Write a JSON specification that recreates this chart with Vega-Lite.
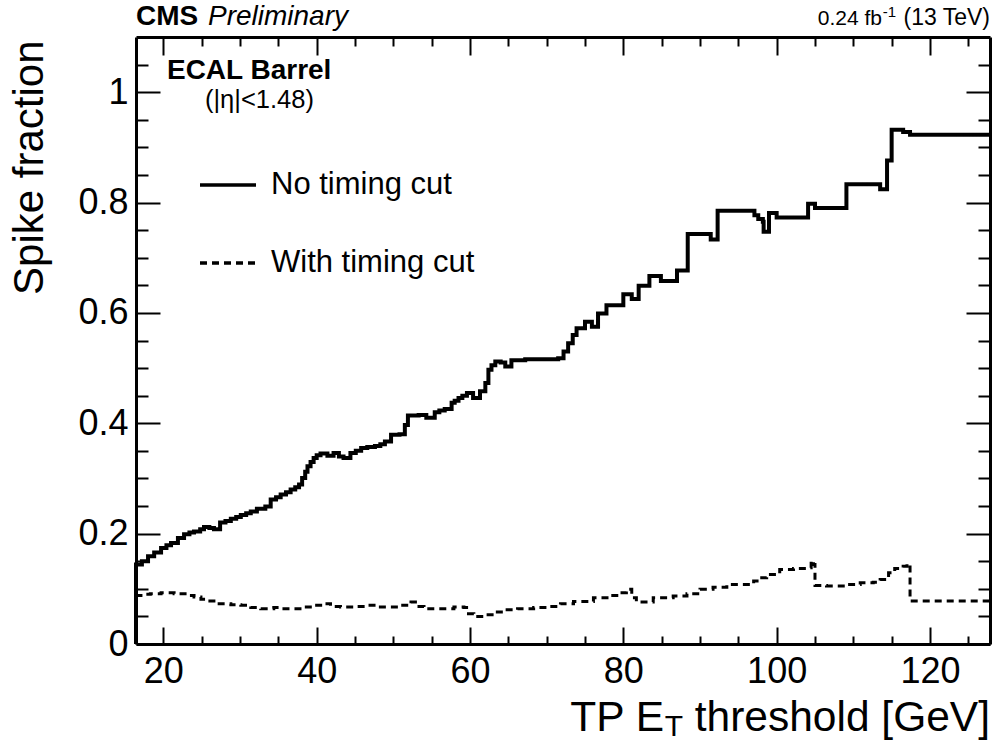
{
  "$schema": "https://vega.github.io/schema/vega-lite/v6.json",
  "width": 854,
  "height": 607,
  "autosize": {"type": "none"},
  "padding": {"left": 136, "top": 37, "right": 5, "bottom": 100},
  "background": "white",
  "config": {
    "view": {"stroke": null},
    "font": "Liberation Sans",
    "axis": {"grid": false, "domainColor": "black", "domainWidth": 3, "tickColor": "black", "tickWidth": 2, "labelColor": "black", "labelFont": "Liberation Sans", "titleFont": "Liberation Sans", "titleColor": "black", "labelOverlap": false, "labelFlush": false, "labelBound": false},
    "text": {"font": "Liberation Sans", "color": "black"}
  },
  "datasets": {
    "nocut": [
      {"et": 16.43, "frac": 0}, {"et": 16.43, "frac": 0.144}, {"et": 17.2, "frac": 0.150}, {"et": 18.0, "frac": 0.159}, {"et": 18.8, "frac": 0.166}, {"et": 19.7, "frac": 0.174}, {"et": 20.4, "frac": 0.179}, {"et": 21.0, "frac": 0.183}, {"et": 21.9, "frac": 0.192}, {"et": 22.7, "frac": 0.199}, {"et": 23.4, "frac": 0.202}, {"et": 24.0, "frac": 0.204}, {"et": 24.8, "frac": 0.208}, {"et": 25.3, "frac": 0.212}, {"et": 26.0, "frac": 0.210}, {"et": 26.6, "frac": 0.208}, {"et": 27.4, "frac": 0.220}, {"et": 28.1, "frac": 0.223}, {"et": 28.8, "frac": 0.227}, {"et": 29.5, "frac": 0.230}, {"et": 30.1, "frac": 0.234}, {"et": 30.8, "frac": 0.237}, {"et": 31.4, "frac": 0.240}, {"et": 32.2, "frac": 0.245}, {"et": 33.3, "frac": 0.249}, {"et": 34.0, "frac": 0.262}, {"et": 34.7, "frac": 0.266}, {"et": 35.3, "frac": 0.271}, {"et": 36.0, "frac": 0.275}, {"et": 36.6, "frac": 0.280}, {"et": 37.2, "frac": 0.284}, {"et": 37.7, "frac": 0.289}, {"et": 38.1, "frac": 0.301}, {"et": 38.5, "frac": 0.312}, {"et": 38.8, "frac": 0.322}, {"et": 39.2, "frac": 0.330}, {"et": 39.6, "frac": 0.337}, {"et": 40.0, "frac": 0.342}, {"et": 40.5, "frac": 0.345}, {"et": 41.4, "frac": 0.341}, {"et": 42.2, "frac": 0.346}, {"et": 42.9, "frac": 0.340}, {"et": 43.5, "frac": 0.337}, {"et": 44.4, "frac": 0.346}, {"et": 45.1, "frac": 0.350}, {"et": 45.8, "frac": 0.355}, {"et": 46.6, "frac": 0.357}, {"et": 47.6, "frac": 0.359}, {"et": 48.3, "frac": 0.362}, {"et": 48.9, "frac": 0.367}, {"et": 49.7, "frac": 0.379}, {"et": 50.8, "frac": 0.380}, {"et": 51.5, "frac": 0.397}, {"et": 51.9, "frac": 0.414}, {"et": 53.3, "frac": 0.415}, {"et": 54.3, "frac": 0.410}, {"et": 55.4, "frac": 0.420}, {"et": 56.0, "frac": 0.423}, {"et": 56.7, "frac": 0.426}, {"et": 57.6, "frac": 0.437}, {"et": 58.0, "frac": 0.441}, {"et": 58.5, "frac": 0.446}, {"et": 59.0, "frac": 0.450}, {"et": 59.6, "frac": 0.455}, {"et": 60.4, "frac": 0.446}, {"et": 61.3, "frac": 0.458}, {"et": 62.0, "frac": 0.473}, {"et": 62.4, "frac": 0.497}, {"et": 62.8, "frac": 0.505}, {"et": 63.3, "frac": 0.512}, {"et": 64.0, "frac": 0.510}, {"et": 64.6, "frac": 0.503}, {"et": 65.4, "frac": 0.514}, {"et": 67.2, "frac": 0.516}, {"et": 71.5, "frac": 0.518}, {"et": 72.2, "frac": 0.530}, {"et": 72.8, "frac": 0.545}, {"et": 73.4, "frac": 0.560}, {"et": 73.9, "frac": 0.572}, {"et": 75.0, "frac": 0.584}, {"et": 75.9, "frac": 0.575}, {"et": 76.7, "frac": 0.599}, {"et": 77.8, "frac": 0.614}, {"et": 80.0, "frac": 0.634}, {"et": 81.1, "frac": 0.625}, {"et": 82.0, "frac": 0.649}, {"et": 83.4, "frac": 0.667}, {"et": 84.9, "frac": 0.658}, {"et": 87.0, "frac": 0.677}, {"et": 88.4, "frac": 0.743}, {"et": 91.4, "frac": 0.733}, {"et": 92.3, "frac": 0.785}, {"et": 97.1, "frac": 0.777}, {"et": 97.6, "frac": 0.770}, {"et": 98.2, "frac": 0.765}, {"et": 98.3, "frac": 0.747}, {"et": 99.0, "frac": 0.781}, {"et": 100.0, "frac": 0.773}, {"et": 104.1, "frac": 0.798}, {"et": 105.0, "frac": 0.790}, {"et": 109.1, "frac": 0.833}, {"et": 113.5, "frac": 0.824}, {"et": 114.4, "frac": 0.876}, {"et": 115.0, "frac": 0.932}, {"et": 116.5, "frac": 0.928}, {"et": 117.4, "frac": 0.923}, {"et": 127.83, "frac": 0.923}
    ],
    "cut": [
      {"et": 16.43, "frac": 0}, {"et": 16.43, "frac": 0.088}, {"et": 17.5, "frac": 0.090}, {"et": 18.3, "frac": 0.091}, {"et": 19.7, "frac": 0.093}, {"et": 21.4, "frac": 0.091}, {"et": 23.1, "frac": 0.088}, {"et": 24.0, "frac": 0.085}, {"et": 24.9, "frac": 0.081}, {"et": 25.7, "frac": 0.078}, {"et": 27.0, "frac": 0.073}, {"et": 28.8, "frac": 0.071}, {"et": 30.1, "frac": 0.070}, {"et": 31.4, "frac": 0.066}, {"et": 32.7, "frac": 0.064}, {"et": 34.4, "frac": 0.066}, {"et": 35.3, "frac": 0.064}, {"et": 37.0, "frac": 0.064}, {"et": 38.3, "frac": 0.067}, {"et": 39.6, "frac": 0.070}, {"et": 40.9, "frac": 0.073}, {"et": 41.8, "frac": 0.068}, {"et": 43.1, "frac": 0.067}, {"et": 44.9, "frac": 0.068}, {"et": 46.6, "frac": 0.070}, {"et": 47.9, "frac": 0.067}, {"et": 49.2, "frac": 0.067}, {"et": 51.0, "frac": 0.070}, {"et": 52.3, "frac": 0.076}, {"et": 53.1, "frac": 0.068}, {"et": 54.0, "frac": 0.064}, {"et": 55.3, "frac": 0.064}, {"et": 56.6, "frac": 0.064}, {"et": 57.9, "frac": 0.067}, {"et": 59.2, "frac": 0.066}, {"et": 59.8, "frac": 0.055}, {"et": 60.5, "frac": 0.050}, {"et": 61.8, "frac": 0.053}, {"et": 63.1, "frac": 0.058}, {"et": 64.4, "frac": 0.062}, {"et": 66.2, "frac": 0.064}, {"et": 68.3, "frac": 0.066}, {"et": 70.1, "frac": 0.068}, {"et": 71.8, "frac": 0.073}, {"et": 73.5, "frac": 0.077}, {"et": 76.1, "frac": 0.084}, {"et": 78.3, "frac": 0.088}, {"et": 79.6, "frac": 0.093}, {"et": 80.4, "frac": 0.099}, {"et": 81.1, "frac": 0.084}, {"et": 81.7, "frac": 0.076}, {"et": 83.9, "frac": 0.084}, {"et": 86.5, "frac": 0.087}, {"et": 88.3, "frac": 0.091}, {"et": 90.0, "frac": 0.099}, {"et": 91.7, "frac": 0.103}, {"et": 93.5, "frac": 0.108}, {"et": 96.1, "frac": 0.108}, {"et": 97.0, "frac": 0.114}, {"et": 97.8, "frac": 0.120}, {"et": 98.7, "frac": 0.126}, {"et": 100.4, "frac": 0.135}, {"et": 102.2, "frac": 0.137}, {"et": 103.9, "frac": 0.138}, {"et": 104.5, "frac": 0.151}, {"et": 104.8, "frac": 0.144}, {"et": 105.0, "frac": 0.106}, {"et": 106.5, "frac": 0.105}, {"et": 109.1, "frac": 0.108}, {"et": 110.9, "frac": 0.111}, {"et": 112.6, "frac": 0.112}, {"et": 113.5, "frac": 0.117}, {"et": 114.6, "frac": 0.129}, {"et": 115.4, "frac": 0.137}, {"et": 116.5, "frac": 0.141}, {"et": 117.0, "frac": 0.145}, {"et": 117.4, "frac": 0.078}, {"et": 127.83, "frac": 0.078}
    ],
    "one": [{}]
  },
  "resolve": {"axis": {"x": "independent", "y": "independent"}},
  "layer": [
    {
      "data": {"name": "nocut"},
      "mark": {"type": "line", "interpolate": "step-after", "color": "black", "strokeWidth": 4, "strokeCap": "butt", "strokeJoin": "miter"},
      "encoding": {
        "x": {"field": "et", "type": "quantitative", "scale": {"domain": [16.43, 127.83], "nice": false, "zero": false},
          "axis": {"orient": "bottom", "values": [20,25,30,35,40,45,50,55,60,65,70,75,80,85,90,95,100,105,110,115,120,125],
            "tickSize": {"condition": {"test": "datum.value % 20 === 0", "value": -17}, "value": -8},
            "labelExpr": "datum.value % 20 === 0 ? datum.label : ''", "labelFontSize": 36, "labelPadding": 27, "title": null}},
        "y": {"field": "frac", "type": "quantitative", "scale": {"domain": [0, 1.1], "nice": false, "zero": false},
          "axis": {"orient": "left", "values": [0,0.05,0.1,0.15,0.2,0.25,0.3,0.35,0.4,0.45,0.5,0.55,0.6,0.65,0.7,0.75,0.8,0.85,0.9,0.95,1,1.05],
            "tickSize": {"condition": {"test": "round(datum.value*100) % 20 === 0", "value": -24}, "value": -12},
            "labelExpr": "round(datum.value*100) % 20 === 0 ? format(datum.value, '~g') : ''", "labelFontSize": 36, "labelPadding": 32,
            "title": "Spike fraction", "titleFontSize": 42, "titleFontWeight": "normal", "titleAngle": -90, "titleAlign": "right", "titleBaseline": "top", "titleX": -127, "titleY": 3}},
        "strokeDash": {"datum": "No timing cut", "type": "nominal",
          "scale": {"domain": ["No timing cut", "With timing cut"], "range": [[1, 0], [7, 5]]},
          "legend": {"title": null, "orient": "none", "legendX": 62, "legendY": 118, "symbolType": "stroke", "symbolSize": 3136, "symbolStrokeWidth": 3.5, "symbolStrokeColor": "black", "labelFontSize": 31, "labelFont": "Liberation Sans", "labelColor": "black", "labelOffset": 13, "rowPadding": 33, "labelLimit": 400}}
      }
    },
    {
      "data": {"name": "cut"},
      "mark": {"type": "line", "interpolate": "step-after", "color": "black", "strokeWidth": 3, "strokeCap": "butt"},
      "encoding": {
        "x": {"field": "et", "type": "quantitative",
          "axis": {"orient": "top", "values": [20,25,30,35,40,45,50,55,60,65,70,75,80,85,90,95,100,105,110,115,120,125],
            "tickSize": {"condition": {"test": "datum.value % 20 === 0", "value": -18}, "value": -9},
            "labels": false, "title": null}},
        "y": {"field": "frac", "type": "quantitative",
          "axis": {"orient": "right", "values": [0,0.05,0.1,0.15,0.2,0.25,0.3,0.35,0.4,0.45,0.5,0.55,0.6,0.65,0.7,0.75,0.8,0.85,0.9,0.95,1,1.05],
            "tickSize": {"condition": {"test": "round(datum.value*100) % 20 === 0", "value": -24}, "value": -12},
            "labels": false, "title": null}},
        "strokeDash": {"datum": "With timing cut", "type": "nominal"}
      }
    },
    {
      "data": {"name": "one"},
      "mark": {"type": "text", "align": "left", "baseline": "alphabetic", "fontSize": 28, "fontWeight": "bold", "text": "CMS"},
      "encoding": {"x": {"datum": 16.43, "type": "quantitative", "axis": null}, "y": {"datum": 1.1218, "type": "quantitative", "axis": null}}
    },
    {
      "data": {"name": "one"},
      "mark": {"type": "text", "align": "left", "baseline": "alphabetic", "fontSize": 28, "fontStyle": "italic", "text": "Preliminary"},
      "encoding": {"x": {"datum": 25.82, "type": "quantitative", "axis": null}, "y": {"datum": 1.1218, "type": "quantitative", "axis": null}}
    },
    {
      "data": {"name": "one"},
      "mark": {"type": "text", "align": "right", "baseline": "alphabetic", "fontSize": 23, "text": "(13 TeV)"},
      "encoding": {"x": {"datum": 127.83, "type": "quantitative", "axis": null}, "y": {"datum": 1.1218, "type": "quantitative", "axis": null}}
    },
    {
      "data": {"name": "one"},
      "mark": {"type": "text", "align": "right", "baseline": "alphabetic", "fontSize": 15, "dx": -94, "dy": -8, "text": "-1"},
      "encoding": {"x": {"datum": 127.83, "type": "quantitative", "axis": null}, "y": {"datum": 1.1218, "type": "quantitative", "axis": null}}
    },
    {
      "data": {"name": "one"},
      "mark": {"type": "text", "align": "right", "baseline": "alphabetic", "fontSize": 21, "dx": -108, "text": "0.24 fb"},
      "encoding": {"x": {"datum": 127.83, "type": "quantitative", "axis": null}, "y": {"datum": 1.1218, "type": "quantitative", "axis": null}}
    },
    {
      "data": {"name": "one"},
      "mark": {"type": "text", "align": "left", "baseline": "alphabetic", "fontSize": 28, "fontWeight": "bold", "text": "ECAL Barrel"},
      "encoding": {"x": {"datum": 20.47, "type": "quantitative", "axis": null}, "y": {"datum": 1.024, "type": "quantitative", "axis": null}}
    },
    {
      "data": {"name": "one"},
      "mark": {"type": "text", "align": "left", "baseline": "alphabetic", "fontSize": 25.5, "text": "(|η|<1.48)"},
      "encoding": {"x": {"datum": 25.43, "type": "quantitative", "axis": null}, "y": {"datum": 0.971, "type": "quantitative", "axis": null}}
    },
    {
      "data": {"name": "one"},
      "mark": {"type": "text", "align": "right", "baseline": "alphabetic", "fontSize": 42.5, "text": "threshold [GeV]"},
      "encoding": {"x": {"datum": 127.83, "type": "quantitative", "axis": null}, "y": {"datum": -0.157, "type": "quantitative", "axis": null}}
    },
    {
      "data": {"name": "one"},
      "mark": {"type": "text", "align": "right", "baseline": "alphabetic", "fontSize": 30, "dx": -307, "dy": 5, "text": "T"},
      "encoding": {"x": {"datum": 127.83, "type": "quantitative", "axis": null}, "y": {"datum": -0.157, "type": "quantitative", "axis": null}}
    },
    {
      "data": {"name": "one"},
      "mark": {"type": "text", "align": "right", "baseline": "alphabetic", "fontSize": 42.5, "dx": -326, "text": "TP E"},
      "encoding": {"x": {"datum": 127.83, "type": "quantitative", "axis": null}, "y": {"datum": -0.157, "type": "quantitative", "axis": null}}
    }
  ]
}
